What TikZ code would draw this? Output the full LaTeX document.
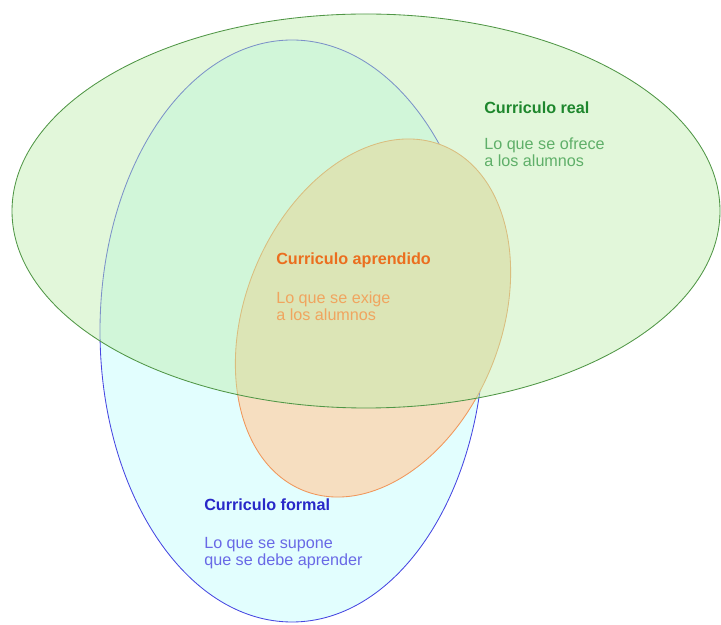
\documentclass[tikz,border=0pt]{standalone}
\usepackage{fontspec}
\setmainfont{Liberation Sans}
\usepackage{tikz}
\usetikzlibrary{positioning}

\definecolor{realline}{RGB}{80,150,70}
\definecolor{realfill}{RGB}{190,238,172}
\definecolor{realtitle}{RGB}{30,135,45}
\definecolor{realtext}{RGB}{95,175,105}
\definecolor{formalline}{RGB}{70,70,225}
\definecolor{formalfill}{RGB}{226,254,254}
\definecolor{formaltitle}{RGB}{40,40,200}
\definecolor{formaltext}{RGB}{105,105,230}
\definecolor{aprenline}{RGB}{240,150,90}
\definecolor{aprenfill}{RGB}{246,222,192}
\definecolor{aprentitle}{RGB}{235,110,30}
\definecolor{aprentext}{RGB}{240,165,95}

\begin{document}
\begin{tikzpicture}[
  x=0.025cm, y=0.025cm,
  every node/.style={font=\fontsize{11.5}{12}\selectfont, inner sep=0pt, anchor=north west, align=left},
  title/.style={font=\fontsize{11.5}{12}\selectfont\bfseries},
  set/.style={line width=0.6pt},
]
  \useasboundingbox (0,0) rectangle (721,624);

  % Conjuntos
  \draw[set, draw=formalline, fill=formalfill] (292,293) ellipse [x radius=192, y radius=291];
  \draw[set, draw=aprenline, fill=aprenfill] (373,306) ellipse [x radius=186, y radius=128, rotate=68];
  \draw[set, draw=realline, fill=realfill, fill opacity=0.45] (366,413) ellipse [x radius=354, y radius=197];

  % Textos
  \node[title, text=realtitle] (real) at (484,522) {Curriculo real};
  \node[text=realtext] (real txt) at (484,486) {Lo que se ofrece\\a los alumnos};

  \node[title, text=aprentitle] (apren) at (276,371) {Curriculo aprendido};
  \node[text=aprentext] (apren txt) at (276,332) {Lo que se exige\\a los alumnos};

  \node[title, text=formaltitle] (formal) at (204,126) {Curriculo formal};
  \node[text=formaltext] (formal txt) at (204,87) {Lo que se supone\\que se debe aprender};
\end{tikzpicture}
\end{document}
